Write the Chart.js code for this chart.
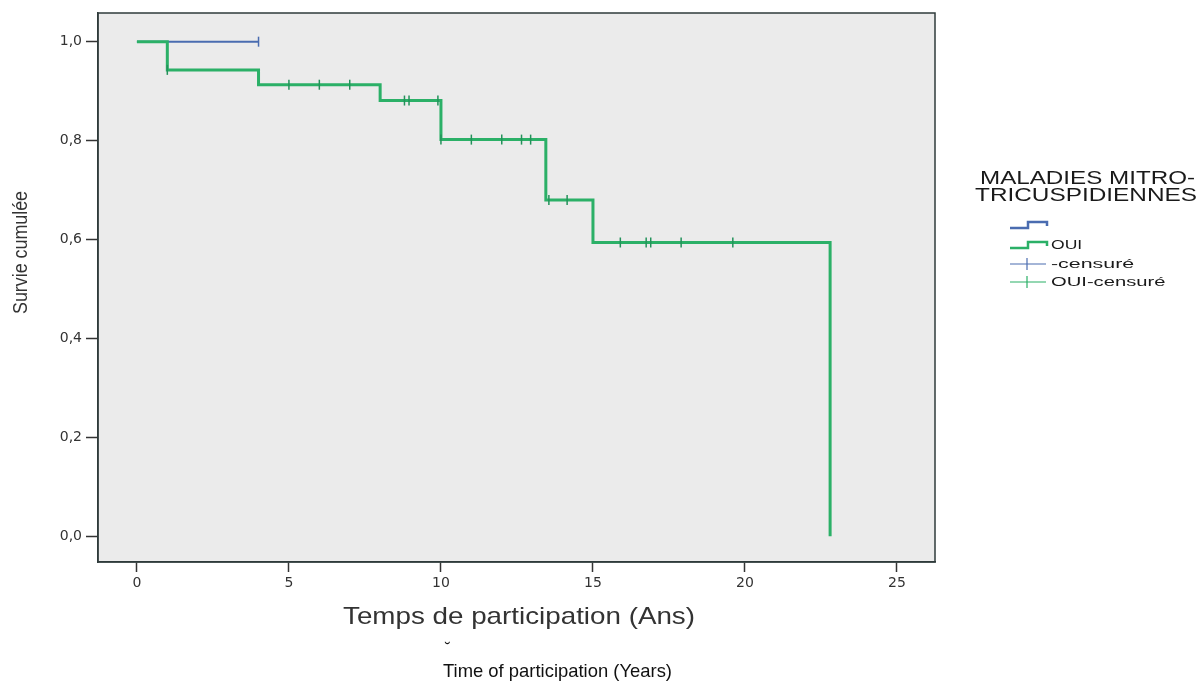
<!DOCTYPE html>
<html>
<head>
<meta charset="utf-8">
<script src="https://cdn.jsdelivr.net/npm/chart.js@4.4.1/dist/chart.umd.min.js"></script>
<style>
  html, body { margin: 0; padding: 0; background: #fff; }
  #wrap { position: relative; width: 1203px; height: 688px; }
</style>
</head>
<body>
<div id="wrap"><canvas id="km" width="1203" height="688"></canvas></div>
<script>
// Kaplan-Meier steps
const stepTimesOui = [0, 1, 4, 8, 10, 13.45, 15, 22.8];
const survivalOui  = [1.0, 0.943, 0.913, 0.881, 0.802, 0.680, 0.594, 0.0];
const stepTimesNon = [0, 4];
const survivalNon  = [1.0, 1.0];

// censored observations (times only, level comes from the step curve)
const censorTimesOui = [1, 5, 6, 7, 8.8, 8.95, 9.9, 10, 11, 12, 12.65, 12.95, 13.55, 14.15, 15.9, 16.75, 16.9, 17.9, 19.6];
const censorTimesNon = [4];

const xTicks = [0, 5, 10, 15, 20, 25];
const yTicks = [0, 0.2, 0.4, 0.6, 0.8, 1.0];

const legendTitle = ['MALADIES MITRO-', 'TRICUSPIDIENNES'];
const legendLabels = ['', 'OUI', '-censuré', 'OUI-censuré'];

const GREEN = '#2bb067';
const GREEN_DARK = '#23925a';
const BLUE = '#4a6cb0';
const FONT = "'Liberation Sans', Arial, sans-serif";
const TICK_FONT = "'DejaVu Sans', 'Liberation Sans', sans-serif";

function levelAt(times, surv, t) {
  let s = surv[0];
  for (let i = 0; i < times.length; i++) {
    if (times[i] <= t) s = surv[i];
  }
  return s;
}
const toPts = (xs, ys) => xs.map((x, i) => ({ x: x, y: ys[i] }));
const censorPts = (ct, times, surv) => ct.map(t => ({ x: t, y: levelAt(times, surv, t) }));

// draw text squeezed/stretched to a given width
function fitText(ctx, txt, x, y, w) {
  const m = ctx.measureText(txt).width;
  ctx.save();
  ctx.translate(x, y);
  ctx.scale(w / m, 1);
  ctx.fillText(txt, 0, 0);
  ctx.restore();
}

const decorPlugin = {
  id: 'decor',
  beforeDraw(chart) {
    const { ctx, chartArea: a } = chart;
    ctx.save();
    ctx.fillStyle = '#ebebeb';
    ctx.fillRect(a.left, a.top, a.right - a.left, a.bottom - a.top);
    ctx.restore();
  },
  afterDraw(chart) {
    const { ctx, chartArea: a } = chart;
    ctx.save();
    // frame
    ctx.strokeStyle = '#2f3b3b';
    ctx.lineWidth = 1.5;
    ctx.strokeRect(a.left, a.top, a.right - a.left, a.bottom - a.top);

    // axis titles
    ctx.fillStyle = '#333';
    ctx.textBaseline = 'middle';
    ctx.font = '24px ' + FONT;
    fitText(ctx, 'Temps de participation (Ans)', 343, 617, 352);

    ctx.save();
    ctx.translate(21, 252);
    ctx.rotate(-Math.PI / 2);
    ctx.font = '20px ' + FONT;
    fitText(ctx, 'Survie cumulée', -62, 0, 123);
    ctx.restore();

    ctx.fillStyle = '#111';
    ctx.font = '16px ' + FONT;
    ctx.fillText('˘', 445, 650);
    ctx.font = '19px ' + FONT;
    fitText(ctx, 'Time of participation (Years)', 443, 672, 229);

    // legend
    ctx.fillStyle = '#1a1a1a';
    ctx.font = '18px ' + FONT;
    fitText(ctx, legendTitle[0], 980, 179, 215);
    fitText(ctx, legendTitle[1], 975, 196, 222);

    const rowY = [225, 245, 264, 282];
    const colors = [BLUE, GREEN, BLUE, GREEN];
    ctx.font = '13px ' + FONT;
    rowY.forEach((y, i) => {
      ctx.strokeStyle = colors[i];
      if (i < 2) {
        ctx.lineWidth = 2.5;
        ctx.beginPath();
        ctx.moveTo(1010, y + 3);
        ctx.lineTo(1028, y + 3);
        ctx.lineTo(1028, y - 3);
        ctx.lineTo(1047, y - 3);
        ctx.lineTo(1047, y + 1);
        ctx.stroke();
      } else {
        ctx.lineWidth = 1.2;
        ctx.beginPath();
        ctx.moveTo(1010, y);
        ctx.lineTo(1046, y);
        ctx.moveTo(1027, y - 6);
        ctx.lineTo(1027, y + 6);
        ctx.stroke();
      }
      if (legendLabels[i]) {
        ctx.fillStyle = '#1a1a1a';
        fitText(ctx, legendLabels[i], 1051, y, legendLabels[i].length * 10.4);
      }
    });
    ctx.restore();
  }
};

const tickFmt = v => v.toFixed(1).replace('.', ',');

new Chart(document.getElementById('km'), {
  type: 'scatter',
  data: {
    datasets: [
      {
        label: 'OUI',
        data: toPts(stepTimesOui, survivalOui),
        showLine: true,
        stepped: true,
        borderColor: GREEN,
        borderWidth: 3,
        pointRadius: 0,
        order: 1
      },
      {
        label: '',
        data: toPts(stepTimesNon, survivalNon),
        showLine: true,
        stepped: true,
        borderColor: BLUE,
        borderWidth: 2,
        pointRadius: 0,
        order: 3
      },
      {
        label: 'OUI-censuré',
        data: censorPts(censorTimesOui, stepTimesOui, survivalOui),
        pointStyle: 'line',
        rotation: 90,
        radius: 5,
        borderColor: GREEN_DARK,
        borderWidth: 1.5,
        order: 0
      },
      {
        label: '-censuré',
        data: censorPts(censorTimesNon, stepTimesNon, survivalNon),
        pointStyle: 'line',
        rotation: 90,
        radius: 5,
        borderColor: BLUE,
        borderWidth: 1.5,
        order: 2
      }
    ]
  },
  options: {
    responsive: false,
    animation: false,
    devicePixelRatio: 1,
    layout: { padding: { top: 13, right: 268, left: 0, bottom: 0 } },
    plugins: { legend: { display: false }, tooltip: { enabled: false } },
    scales: {
      x: {
        type: 'linear',
        min: -1.28,
        max: 26.25,
        afterBuildTicks: s => { s.ticks = xTicks.map(v => ({ value: v })); },
        afterFit: s => { s.height = 126; },
        grid: { drawOnChartArea: false, tickLength: 10, tickColor: '#333', tickWidth: 1.5 },
        border: { color: '#2f3b3b', width: 1.5 },
        ticks: { color: '#333', font: { family: TICK_FONT, size: 14 }, padding: 3, maxRotation: 0 }
      },
      y: {
        min: -0.052,
        max: 1.058,
        afterBuildTicks: s => { s.ticks = yTicks.map(v => ({ value: v })); },
        afterFit: s => { s.width = 98; },
        grid: { drawOnChartArea: false, tickLength: 12, tickColor: '#333', tickWidth: 1.5 },
        border: { color: '#2f3b3b', width: 1.5 },
        ticks: { color: '#333', font: { family: TICK_FONT, size: 14 }, padding: 4, callback: tickFmt }
      }
    }
  },
  plugins: [decorPlugin]
});
</script>
</body>
</html>
